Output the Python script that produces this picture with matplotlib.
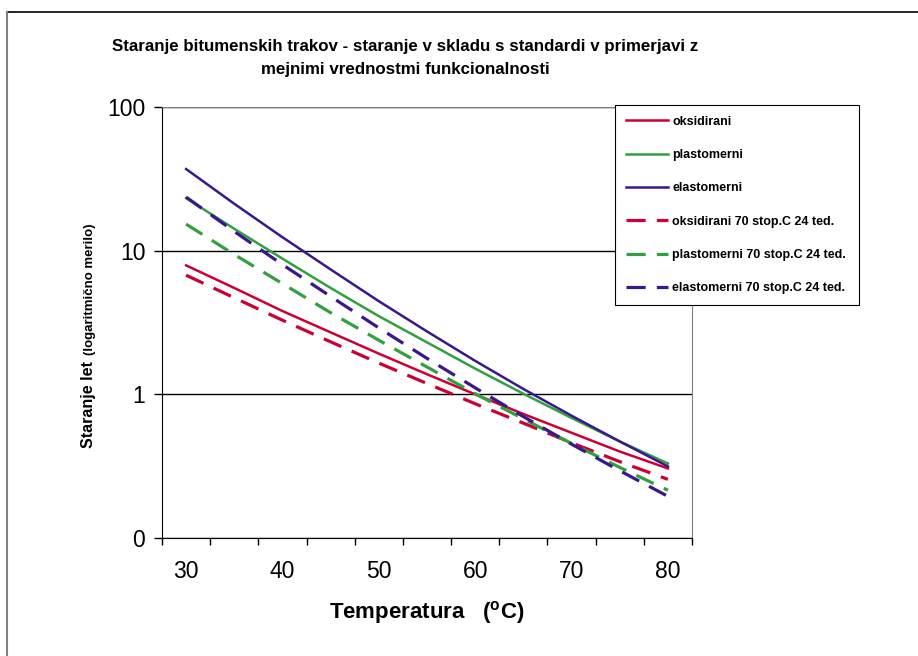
import numpy as np
import matplotlib.pyplot as plt
from matplotlib.lines import Line2D

plt.rcParams['font.family'] = ['Liberation Sans', 'DejaVu Sans']
plt.rcParams['mathtext.fontset'] = 'custom'
plt.rcParams['mathtext.rm'] = 'Liberation Sans'
plt.rcParams['mathtext.bf'] = 'Liberation Sans:bold'

# temperature (C) and ageing in years
temp = [30, 35, 40, 45, 50, 55, 60, 65, 70, 75, 80]
oksidirani = [7.9, 5.5, 3.8, 2.7, 1.92, 1.38, 1.0, 0.73, 0.54, 0.40, 0.305]
plastomerni = [23.2, 14.2, 8.8, 5.5, 3.5, 2.3, 1.51, 1.01, 0.685, 0.47, 0.33]
elastomerni = [37.0, 21.2, 12.4, 7.4, 4.45, 2.74, 1.71, 1.09, 0.71, 0.47, 0.315]
oksidirani_70 = [6.75, 4.7, 3.28, 2.32, 1.65, 1.19, 0.86, 0.63, 0.46, 0.34, 0.256]
plastomerni_70 = [15.3, 9.4, 5.9, 3.7, 2.38, 1.55, 1.01, 0.675, 0.455, 0.31, 0.215]
elastomerni_70 = [23.6, 13.6, 8.0, 4.8, 2.9, 1.78, 1.11, 0.70, 0.45, 0.294, 0.195]

red = '#CC0033'
green = '#30A040'
purple = '#38188C'

fig = plt.figure(figsize=(9.18, 6.56), dpi=100)
ax = fig.add_axes([162/918, 1-538/656, 530/918, 431/656])

ax.plot(temp, oksidirani, color=red, lw=1.8, label='oksidirani')
ax.plot(temp, plastomerni, color=green, lw=1.8, label='plastomerni')
ax.plot(temp, elastomerni, color=purple, lw=1.8, label='elastomerni')
ax.plot(temp, oksidirani_70, color=red, lw=2.3, dashes=(6, 3.5), label='oksidirani 70 stop.C 24 ted.')
ax.plot(temp, plastomerni_70, color=green, lw=2.3, dashes=(6, 3.5), label='plastomerni 70 stop.C 24 ted.')
ax.plot(temp, elastomerni_70, color=purple, lw=2.3, dashes=(6, 3.5), label='elastomerni 70 stop.C 24 ted.')

ax.set_yscale('log')
ax.set_ylim(0.1, 100)
ax.set_xlim(27.5, 82.5)
ax.set_yticks([0.1, 1, 10, 100])
ax.set_yticklabels(['0', '1', '10', '100'], fontsize=16.5)
ax.yaxis.set_minor_locator(plt.NullLocator())
ax.set_xticks([30, 40, 50, 60, 70, 80])
ax.set_xticklabels(['30', '40', '50', '60', '70', '80'], fontsize=16.5)
ax.set_xticks(np.arange(27.5, 83, 5), minor=True)
ax.tick_params(axis='x', which='major', length=0, pad=16)
ax.tick_params(axis='x', which='minor', length=5, width=1, direction='out')
ax.tick_params(axis='y', length=6, width=1, direction='out', pad=6)
ax.grid(axis='y', which='major', color='black', lw=1)
for s in ['top', 'right']:
    ax.spines[s].set_color('#808080')
for s in ['left', 'bottom']:
    ax.spines[s].set_color('black')

leg = ax.legend(loc='upper left', bbox_to_anchor=(615/918, 1-307/656, 244/918, 202/656),
                bbox_transform=fig.transFigure, mode='expand', frameon=True, fancybox=False,
                edgecolor='black', framealpha=1, prop={'weight': 'bold', 'size': 9},
                handlelength=3.4, handletextpad=0.35, labelspacing=1.71, borderpad=0.85,
                borderaxespad=0)
leg.get_frame().set_linewidth(0.8)

fig.text(405/918, 1-58/656, 'Staranje bitumenskih trakov - staranje v skladu s standardi v primerjavi z\nmejnimi vrednostmi funkcionalnosti',
         ha='center', va='center', fontsize=12.2, fontweight='bold', linespacing=1.65)

fig.text(93/918, 1-448/656, 'Staranje let', rotation=90, rotation_mode='anchor',
         ha='left', va='baseline', fontsize=11.5, fontweight='bold')
fig.text(93/918, 1-355/656, '(logaritmično merilo)', rotation=90, rotation_mode='anchor',
         ha='left', va='baseline', fontsize=9.5, fontweight='bold')

fig.text(427/918, 1-612/656, r'Temperatura   ($^{\mathbf{o}}$C)', ha='center', va='center',
         fontsize=16, fontweight='bold')

# outer chart frame
fig.add_artist(Line2D([7/918, 1], [1-12/656, 1-12/656], transform=fig.transFigure, color='black', lw=1.2))
fig.add_artist(Line2D([7/918, 7/918], [0, 1-12/656], transform=fig.transFigure, color='#808080', lw=1.5))

fig.savefig('out.png', dpi=100)
